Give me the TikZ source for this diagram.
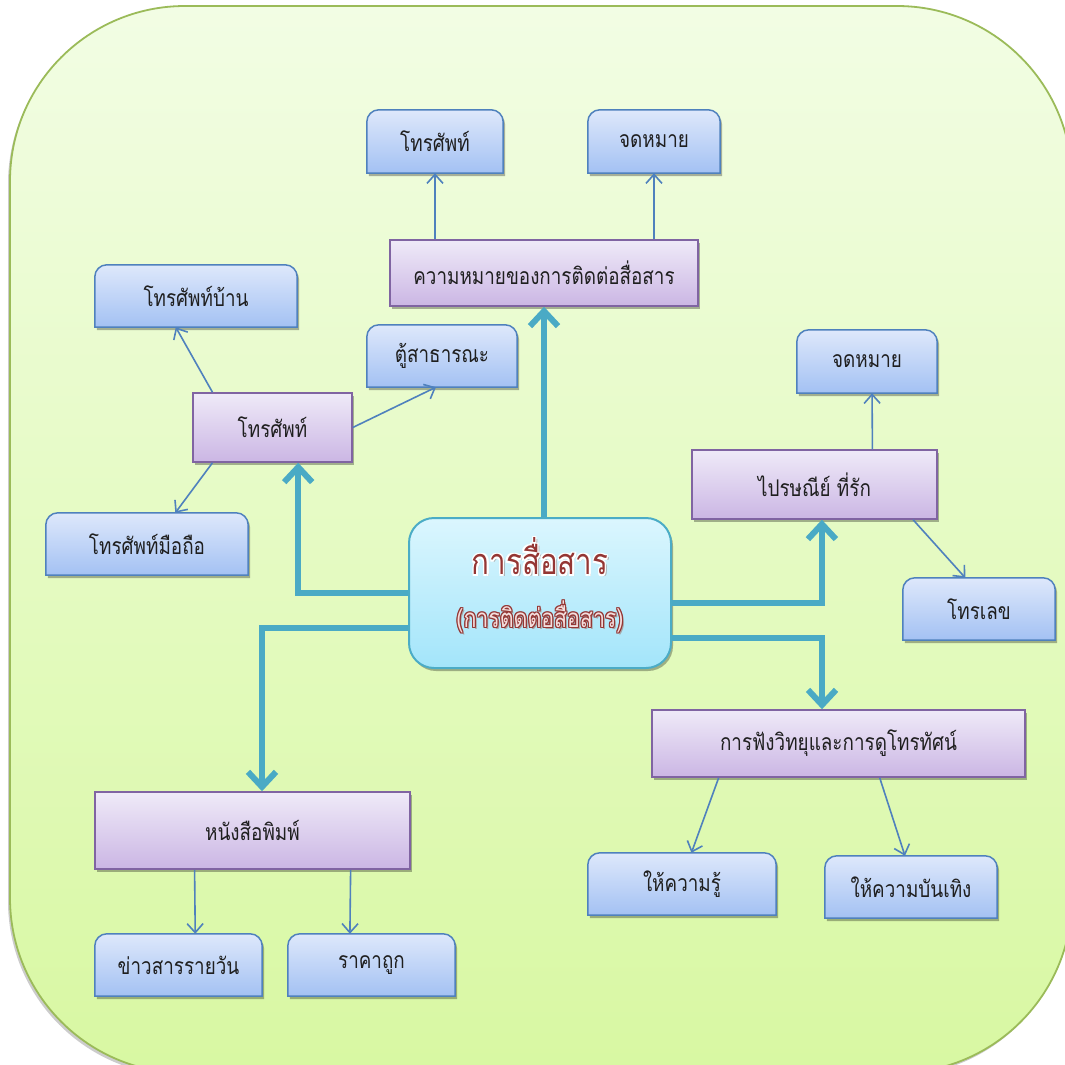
\documentclass[tikz,border=0pt]{standalone}
\usepackage{fontspec}
\setmainfont[Script=Thai, FakeStretch=0.82]{Loma}
\usetikzlibrary{arrows.meta,calc,shadows}
\definecolor{bgtop}{HTML}{F2FDE4}
\definecolor{bgbot}{HTML}{D8F8A2}
\definecolor{bgborder}{HTML}{9BBB59}
\definecolor{purpT}{HTML}{EFEAF8}
\definecolor{purpBot}{HTML}{CBB6E4}
\definecolor{purpB}{HTML}{8064A2}
\definecolor{blueT}{HTML}{DEE8FB}
\definecolor{blueBot}{HTML}{A3C1F3}
\definecolor{blueB}{HTML}{4F81BD}
\definecolor{cenT}{HTML}{DBF6FE}
\definecolor{cenBot}{HTML}{A3E5FA}
\definecolor{cenB}{HTML}{4BACC6}
\definecolor{thickC}{HTML}{4AAAC5}
\definecolor{thinC}{HTML}{4F81BD}
\definecolor{txt}{HTML}{1F1F1F}
\definecolor{dred}{HTML}{943634}
\definecolor{pinkf}{HTML}{F4DEDD}
\pgfdeclarelayer{back}
\pgfdeclarelayer{bg}
\pgfsetlayers{back,bg,main}
\newcommand\glowtxt[4]{\leavevmode
 \rlap{\color{#1}\kern#3\relax #4}\rlap{\color{#1}\kern-#3\relax #4}%
 \rlap{\color{#1}\raisebox{#3}{#4}}\rlap{\color{#1}\raisebox{-#3}{#4}}%
 \rlap{\color{#1}\kern#3\relax\raisebox{#3}{#4}}\rlap{\color{#1}\kern-#3\relax\raisebox{#3}{#4}}%
 \rlap{\color{#1}\kern#3\relax\raisebox{-#3}{#4}}\rlap{\color{#1}\kern-#3\relax\raisebox{-#3}{#4}}%
 {\color{#2}#4}}
\newcommand\shadowed[2]{\leavevmode\rlap{\color{black!35}\kern2pt\raisebox{-2pt}{#2}}#1}
\tikzset{
 every node/.style={font=\fontsize{23}{27}\selectfont, text=txt, inner sep=0pt},
 purplebox/.style={draw=purpB, line width=1.5pt, top color=purpT, bottom color=purpBot,
   drop shadow={shadow xshift=2pt,shadow yshift=-3pt,opacity=0.3,fill=black}},
 bluenode/.style={},
 bluefill/.style={draw=blueB, line width=1.5pt, top color=blueT, bottom color=blueBot,
   drop shadow={shadow xshift=2pt,shadow yshift=-3pt,opacity=0.3,fill=black}},
 centerbox/.style={draw=cenB, line width=2pt, rounded corners=25pt, top color=cenT, bottom color=cenBot,
   drop shadow={shadow xshift=2pt,shadow yshift=-3pt,opacity=0.3,fill=black}},
 thickarrow/.style={draw=thickC, line width=6pt, line join=miter, -{Straight Barb[length=15pt,width=28pt]}},
 thinarrow/.style={draw=thinC, line width=1.6pt, -{Straight Barb[length=9pt,width=16pt]}},
}
\begin{document}
\begin{tikzpicture}[x=1pt,y=-1pt]
\useasboundingbox (0,0) rectangle (1065,1065);
\begin{pgfonlayer}{back}
\begin{scope}
\clip (0,0) rectangle (1065,1065);
\path[draw=bgborder, line width=1.8pt, top color=bgtop, bottom color=bgbot, rounded corners=175pt,
  drop shadow={shadow xshift=-2pt,shadow yshift=-3pt,opacity=0.2,fill=black}] (10,6) rectangle (1072,1073);
\end{scope}
\end{pgfonlayer}

% center
\node[centerbox, minimum width=262pt, minimum height=150pt, align=center, text depth=22pt] (c) at (540,593)
 {\fontsize{36}{40}\selectfont\shadowed{\glowtxt{white}{dred}{1.3pt}{การสื่อสาร}}{การสื่อสาร}\\[22pt]
  \fontsize{26}{30}\selectfont\shadowed{\glowtxt{dred}{pinkf}{1pt}{(การติดต่อสื่อสาร)}}{(การติดต่อสื่อสาร)}};

% purple boxes
\node[purplebox, minimum width=308pt, minimum height=66pt] (p1) at (544,273) {ความหมายของการติดต่อสื่อสาร};
\node[purplebox, minimum width=159pt, minimum height=69pt] (p2) at (272.5,427.5) {โทรศัพท์};
\node[purplebox, minimum width=245pt, minimum height=69pt] (p3) at (814.5,484.5) {ไปรษณีย์ ที่รัก};
\node[purplebox, minimum width=373pt, minimum height=67pt] (p4) at (838.5,743.5) {การฟังวิทยุและการดูโทรทัศน์};
\node[purplebox, minimum width=315pt, minimum height=77pt] (p5) at (252.5,830.5) {หนังสือพิมพ์};

% blue boxes
\node[bluenode, minimum width=136pt, minimum height=63pt] (b1) at (435,141.5) {โทรศัพท์};
\node[bluenode, minimum width=132pt, minimum height=63pt] (b2) at (654,141.5) {จดหมาย};
\node[bluenode, minimum width=202pt, minimum height=62pt] (b3) at (196,296) {โทรศัพท์บ้าน};
\node[bluenode, minimum width=150pt, minimum height=62pt] (b4) at (442,356) {ตู้สาธารณะ};
\node[bluenode, minimum width=202pt, minimum height=62pt] (b5) at (147,544) {โทรศัพท์มือถือ};
\node[bluenode, minimum width=140pt, minimum height=63pt] (b6) at (867,361.5) {จดหมาย};
\node[bluenode, minimum width=152pt, minimum height=62pt] (b7) at (979,609) {โทรเลข};
\node[bluenode, minimum width=188pt, minimum height=62pt] (b8) at (682,884) {ให้ความรู้};
\node[bluenode, minimum width=172pt, minimum height=62pt] (b9) at (911,887) {ให้ความบันเทิง};
\node[bluenode, minimum width=167pt, minimum height=62pt] (b10) at (178.5,965) {ข่าวสารรายวัน};
\node[bluenode, minimum width=167pt, minimum height=62pt] (b11) at (371.5,965) {ราคาถูก};

\begin{pgfonlayer}{bg}
\foreach \n in {b1,b2,b3,b4,b5,b6,b7,b8,b9,b10,b11}
  \path[bluefill] (\n.south west) [rounded corners=12pt] -- (\n.north west) -- (\n.north east) [sharp corners] -- (\n.south east) -- cycle;
\end{pgfonlayer}

% thick connectors
\draw[thickarrow] (c.north -| p1.south) -- (p1.south);
\draw[thickarrow] (c.west) -| ($(p2.south west)!0.66!(p2.south east)$);
\draw[thickarrow] ($(c.west)+(0,35)$) -| ($(p5.north west)!0.53!(p5.north east)$);
\draw[thickarrow] ($(c.east)+(0,10)$) -| ($(p3.south west)!0.53!(p3.south east)$);
\draw[thickarrow] ($(c.east)+(0,45)$) -| ($(p4.north west)!0.456!(p4.north east)$);

% thin connectors
\draw[thinarrow] (p1.north -| b1.south) -- (b1.south);
\draw[thinarrow] (p1.north -| b2.south) -- (b2.south);
\draw[thinarrow] ($(p2.north west)!0.126!(p2.north east)$) -- ($(b3.south west)!0.4!(b3.south east)$);
\draw[thinarrow] (p2.east) -- ($(b4.south west)!0.46!(b4.south east)$);
\draw[thinarrow] ($(p2.south west)!0.126!(p2.south east)$) -- ($(b5.north west)!0.64!(b5.north east)$);
\draw[thinarrow] ($(p3.north west)!0.735!(p3.north east)$) -- ($(b6.south west)!0.536!(b6.south east)$);
\draw[thinarrow] ($(p3.south west)!0.9!(p3.south east)$) -- ($(b7.north west)!0.41!(b7.north east)$);
\draw[thinarrow] ($(p4.south west)!0.18!(p4.south east)$) -- ($(b8.north west)!0.55!(b8.north east)$);
\draw[thinarrow] ($(p4.south west)!0.61!(p4.south east)$) -- ($(b9.north west)!0.465!(b9.north east)$);
\draw[thinarrow] ($(p5.south west)!0.317!(p5.south east)$) -- ($(b10.north west)!0.6!(b10.north east)$);
\draw[thinarrow] ($(p5.south west)!0.81!(p5.south east)$) -- ($(b11.north west)!0.371!(b11.north east)$);
\end{tikzpicture}
\end{document}
